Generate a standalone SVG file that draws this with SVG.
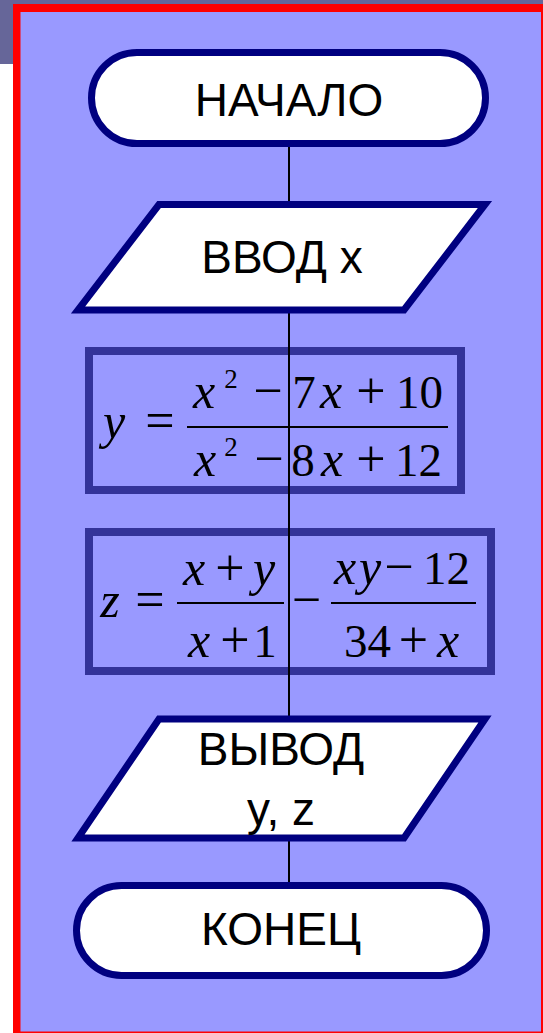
<svg xmlns="http://www.w3.org/2000/svg" width="543" height="1033" viewBox="0 0 543 1033">
<style>
.term{fill:#ffffff;stroke:#000080;stroke-width:7}
.io{fill:#ffffff;stroke:#000080;stroke-width:7;stroke-linejoin:miter}
.proc{fill:none;stroke:#333399;stroke-width:8}
.lbl{font-family:"Liberation Sans",Arial,sans-serif;font-size:46px;fill:#000;text-anchor:middle}
.m{font-family:"Liberation Serif","Times New Roman",serif;font-size:47px;fill:#000;text-anchor:middle}
.v{font-style:italic;font-size:50px}
.o{font-size:52px}
.sup{font-size:27px}
.bar{stroke:#000;stroke-width:2}
.conn{stroke:#000;stroke-width:2;fill:none}
</style>
<rect x="0" y="0" width="543" height="1033" fill="#ffffff"/>
<rect x="0" y="0" width="543" height="5" fill="#666699"/>
<rect x="0" y="0" width="14" height="64" fill="#666699"/>
<rect x="13" y="4" width="530" height="1029" fill="#ff0000"/>
<rect x="20.5" y="12" width="520.5" height="1019.5" fill="#9999ff"/>

<g id="proc1">
<rect class="proc" x="89" y="351" width="372" height="139"/>
<text class="m v" x="114" y="438">y</text>
<text class="m o" x="160" y="438">=</text>
<line class="bar" x1="187" y1="427" x2="448" y2="427"/>
<text class="m v" x="204" y="408">x</text>
<text class="m sup" x="231" y="388">2</text>
<text class="m o" x="268" y="408">−</text>
<text class="m" x="304" y="408">7</text>
<text class="m v" x="331" y="408">x</text>
<text class="m o" x="371" y="408">+</text>
<text class="m" x="419.5" y="408">10</text>
<text class="m v" x="205" y="476">x</text>
<text class="m sup" x="231" y="456">2</text>
<text class="m o" x="269" y="476">−</text>
<text class="m" x="303" y="476">8</text>
<text class="m v" x="332" y="476">x</text>
<text class="m o" x="371" y="476">+</text>
<text class="m" x="418.5" y="476">12</text>
</g>

<g id="proc2">
<rect class="proc" x="89" y="532" width="402" height="139"/>
<text class="m v" x="110" y="617">z</text>
<text class="m o" x="150" y="617">=</text>
<line class="bar" x1="177" y1="603" x2="284" y2="603"/>
<text class="m v" x="194" y="585">x</text>
<text class="m o" x="230" y="585">+</text>
<text class="m v" x="264" y="585">y</text>
<text class="m v" x="199" y="657">x</text>
<text class="m o" x="235" y="657">+</text>
<text class="m" x="265" y="657">1</text>
<text class="m o" x="306.5" y="617">−</text>
<line class="bar" x1="331" y1="603" x2="476" y2="603"/>
<text class="m v" x="345" y="584">x</text>
<text class="m v" x="370" y="584">y</text>
<text class="m o" x="399" y="584">−</text>
<text class="m" x="446.5" y="584">12</text>
<text class="m" x="367.5" y="657">34</text>
<text class="m o" x="413.5" y="657">+</text>
<text class="m v" x="448" y="657">x</text>
</g>

<g id="connectors">
<line class="conn" x1="289" y1="145" x2="289" y2="887"/>
</g>

<g id="start">
<rect class="term" x="91.5" y="52.5" width="394" height="91" rx="45.5" ry="45.5"/>
<text class="lbl" x="289" y="116">НАЧАЛО</text>
</g>

<g id="input">
<polygon class="io" points="159,204.5 485,204.5 404,310 78,310"/>
<text class="lbl" x="282" y="273">ВВОД x</text>
</g>

<g id="output">
<polygon class="io" points="159,719 485,719 404,838 78,838"/>
<text class="lbl" x="281" y="765">ВЫВОД</text>
<text class="lbl" x="281" y="825">y, z</text>
</g>

<g id="end">
<rect class="term" x="76.5" y="885.5" width="410" height="90" rx="45" ry="45"/>
<text class="lbl" x="281" y="945">КОНЕЦ</text>
</g>
</svg>
